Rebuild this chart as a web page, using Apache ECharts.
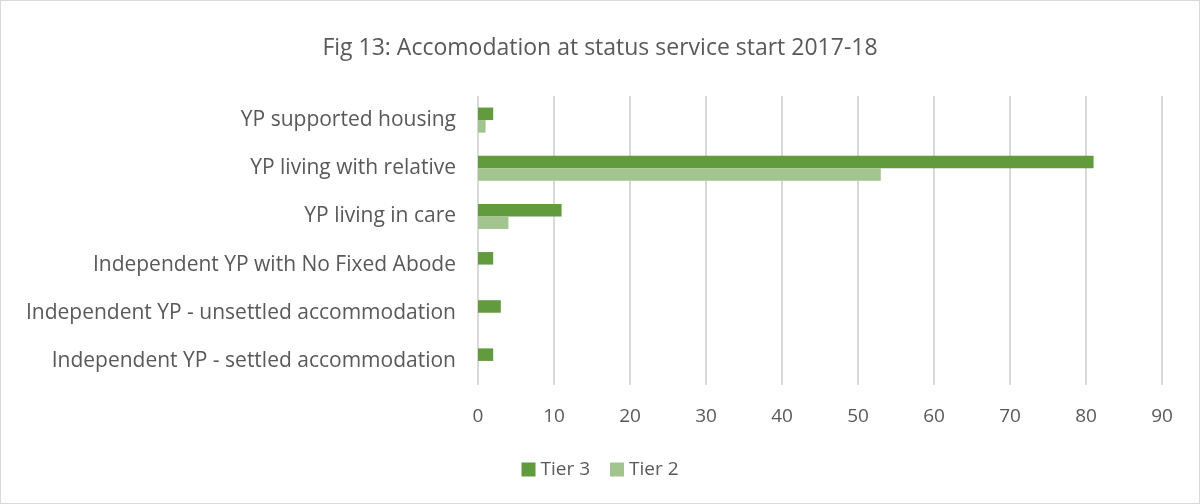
<!DOCTYPE html>
<html>
<head>
<meta charset="utf-8">
<script src="https://cdn.jsdelivr.net/npm/echarts@6/dist/echarts.min.js"></script>
<style>
html, body { margin: 0; padding: 0; background: #fff; }
#chart { width: 1200px; height: 504px; box-sizing: border-box; border: 1px solid #d9d9d9; }
</style>
</head>
<body>
<div id="chart"></div>
<script>
// categories listed bottom to top (category axis starts at the bottom)
var categories = [
  'Independent YP - settled accommodation',
  'Independent YP - unsettled accommodation',
  'Independent YP with No Fixed Abode',
  'YP living in care',
  'YP living with relative',
  'YP supported housing'
];
var tier3 = [2, 3, 2, 11, 81, 2];
var tier2 = [0, 0, 0, 4, 53, 1];
var xTicks = [0, 10, 20, 30, 40, 50, 60, 70, 80, 90];

var chart = echarts.init(document.getElementById('chart'));
var textColor = '#595959';
var fontFam = '"Open Sans", sans-serif';

var option = {
  animation: false,
  title: {
    text: 'Fig 13: Accomodation at status service start 2017-18',
    left: 'center',
    top: 31,
    textStyle: { color: textColor, fontSize: 23, fontWeight: 'normal', fontFamily: fontFam }
  },
  legend: {
    data: ['Tier 3', 'Tier 2'],
    bottom: 19,
    left: 'center',
    itemWidth: 14,
    itemHeight: 14,
    itemGap: 20,
    icon: 'rect',
    textStyle: { color: textColor, fontSize: 19, fontFamily: fontFam }
  },
  grid: { left: 477, right: 37, top: 95, bottom: 118 },
  xAxis: {
    type: 'value',
    min: 0,
    max: xTicks[xTicks.length - 1],
    interval: 10,
    axisLine: { show: false },
    axisTick: { show: false },
    axisLabel: { color: textColor, fontSize: 19, margin: 22, fontFamily: fontFam },
    splitLine: { show: true, lineStyle: { color: '#d9d9d9', width: 2 } }
  },
  yAxis: {
    type: 'category',
    data: categories,
    axisLine: { show: false },
    axisTick: { show: false },
    axisLabel: { color: textColor, fontSize: 21, margin: 22, fontFamily: fontFam }
  },
  series: [
    {
      name: 'Tier 3',
      type: 'bar',
      data: tier3,
      barWidth: '26%',
      barGap: '0%',
      itemStyle: { color: '#629a3e' }
    },
    {
      name: 'Tier 2',
      type: 'bar',
      data: tier2,
      barWidth: '26%',
      barGap: '0%',
      itemStyle: { color: '#a2c48e' }
    }
  ]
};
chart.setOption(option);
</script>
</body>
</html>
